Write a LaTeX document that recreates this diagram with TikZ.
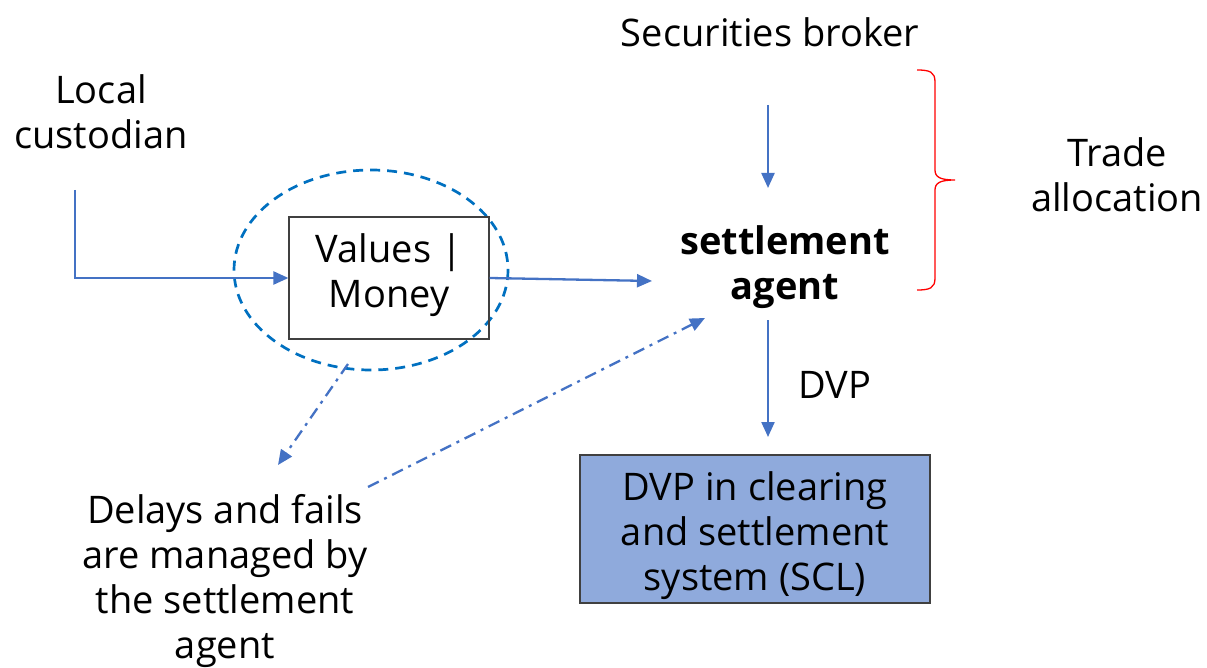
\documentclass[tikz,border=0pt]{standalone}
\usepackage{fontspec}
\setmainfont{Open Sans}
\usetikzlibrary{arrows.meta}
\definecolor{arrblue}{HTML}{4472C4}
\definecolor{ellblue}{HTML}{0070C0}
\definecolor{boxfill}{HTML}{8FAADC}
\tikzset{
  lbl/.style={align=center, font=\fontsize{38}{45}\selectfont, inner sep=0pt},
  arr/.style={draw=arrblue, line width=2.3pt, -{Triangle[length=15pt,width=13pt]}},
  dda/.style={arr, dash pattern=on 12pt off 6pt on 3pt off 6pt},
  frame/.style={draw=black!75, line width=1.2pt},
}
\begin{document}
\begin{tikzpicture}[x=1pt,y=-1pt]
\useasboundingbox (0,0) rectangle (1207,668);
% ellipse
\draw[ellblue, line width=2.7pt, dash pattern=on 10pt off 7pt] (371,270) ellipse [x radius=137, y radius=100];
% texts
\node[lbl] (broker) at (770,32) {Securities broker};
\node[lbl] (cust) at (101,112) {Local\\custodian};
\node[frame, minimum width=200pt, minimum height=122pt] (vm) at (389,278) {};
\node[lbl] (vmt) at (389,275) {Values |\\Money};
\node[lbl, font=\fontsize{38}{45}\selectfont\bfseries] (agent) at (785,267) {settlement\\agent};
\node[lbl] (trade) at (1117,175) {Trade\\allocation};
\node[lbl] (dvpl) at (835,385) {DVP};
\node[frame, fill=boxfill, minimum width=350pt, minimum height=148pt] (scl) at (755,529) {};
\node[lbl] (sclt) at (755,536) {DVP in clearing\\and settlement\\system (SCL)};
\node[lbl] (delay) at (225,581) {Delays and fails\\are managed by\\the settlement\\agent};
% coordinates
\coordinate (c1) at (75,190);
\coordinate (a-in) at (652,281);
\coordinate (b-top) at (768,105);
\coordinate (b-end) at (768,188);
\coordinate (a-bot) at (768,320);
\coordinate (s-top) at (768,437);
\coordinate (e-bot) at (348,364);
\coordinate (d-tip) at (278,465);
\coordinate (d-start) at (368,487);
\coordinate (a-tip) at (705,318);
% arrows
\draw[arr] (c1) |- (vm.west);
\draw[arr] (vm.east) -- (a-in);
\draw[arr] (b-top) -- (b-end);
\draw[arr] (a-bot) -- (s-top);
\draw[dda] (e-bot) -- (d-tip);
\draw[dda] (d-start) -- (a-tip);
% brace
\draw[red, line width=1.3pt] (917,70) .. controls (930,70) and (935,72) .. (935,82) -- (935,170) .. controls (935,177) and (940,180) .. (955,180) .. controls (940,180) and (935,183) .. (935,190) -- (935,278) .. controls (935,288) and (930,290) .. (917,290);
\end{tikzpicture}
\end{document}
